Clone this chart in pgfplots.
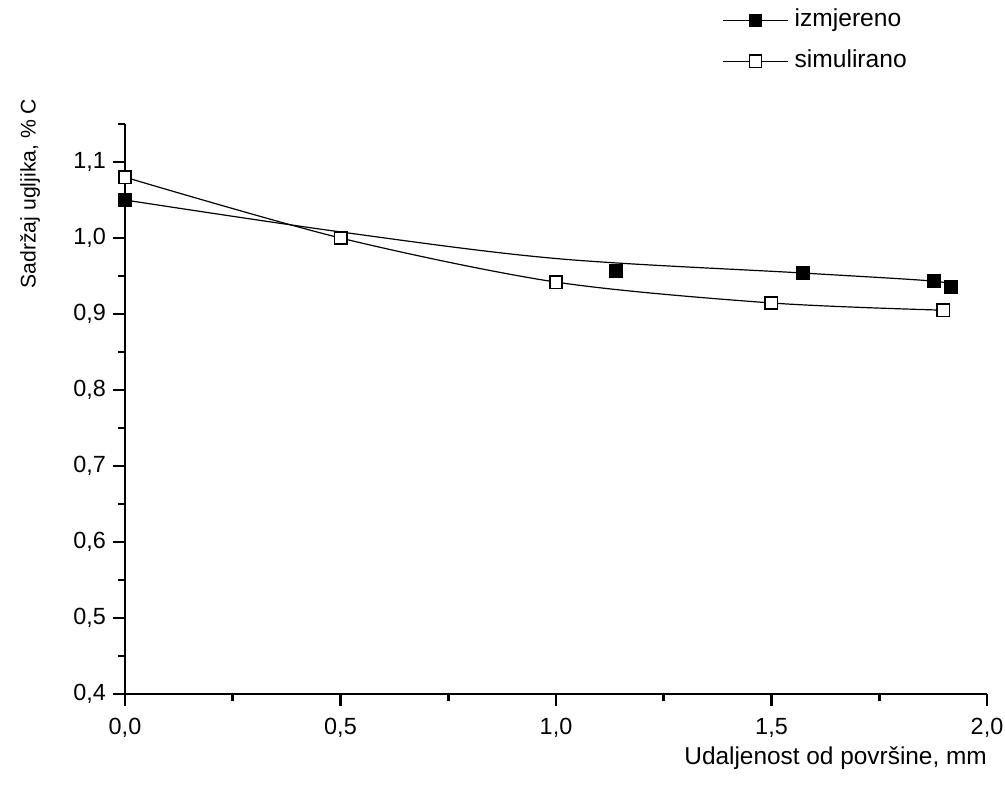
\documentclass[border=0pt]{standalone}
\usepackage{fontspec}
\setmainfont{Liberation Sans}
\usepackage{pgfplots}
\pgfplotsset{compat=1.18}
\begin{document}
\begin{tikzpicture}[x=1pt,y=1pt]
\useasboundingbox (-62.5,-51) rectangle (440,347);
\begin{axis}[
  at={(0,0)}, anchor=south west,
  scale only axis, width=431pt, height=285pt,
  xmin=0, xmax=2, ymin=0.4, ymax=1.15,
  axis x line*=bottom, axis y line*=left,
  axis line style={-, line width=1.4pt},
  xtick={0,0.5,1,1.5,2},
  minor xtick={0.25,0.75,1.25,1.75},
  ytick={0.4,0.5,0.6,0.7,0.8,0.9,1.0,1.1},
  minor ytick={0.45,0.55,0.65,0.75,0.85,0.95,1.05,1.15},
  tick align=outside,
  major tick length=6pt, minor tick length=3.5pt,
  every tick/.style={black, line width=1.4pt},
  /pgf/number format/assume math mode=true,
  /pgf/number format/use comma,
  /pgf/number format/fixed,
  /pgf/number format/fixed zerofill,
  /pgf/number format/precision=1,
  ticklabel style={font=\fontsize{11.7pt}{14pt}\selectfont},
  xticklabel style={yshift=-2.5pt},
  ylabel={Sadržaj ugljika, \% C},
  xlabel={Udaljenost od površine, mm},
  every axis y label/.style={at={(rel axis cs:-0.1102,0.878)}, rotate=90, anchor=center, font=\fontsize{10.6pt}{13pt}\selectfont},
  every axis x label/.style={at={(rel axis cs:1.008,-0.112)}, anchor=east, font=\fontsize{12.2pt}{14pt}\selectfont},
  clip=false,
  legend style={draw=none, fill=none, inner sep=0pt, at={(rel axis cs:0.6926,1.2035)}, anchor=north west,
    font=\fontsize{12.3pt}{14pt}\selectfont, row sep=8.5pt,
    nodes={inner sep=0pt, text height=9pt, text depth=3pt},
    /tikz/every odd column/.append style={column sep=3pt}},
  legend cell align=left,
  legend image code/.code={\draw[black, line width=0.6pt] (0pt,0pt) -- (32.5pt,0pt);
     \draw[#1] plot coordinates {(16.25pt,0pt)};},
]
% fitted curves
\addplot[black, line width=0.6pt, smooth, tension=0.55, forget plot] coordinates {
 (0,1.05) (0.5,1.008) (1.0,0.973) (1.57,0.954) (1.88,0.943) (1.916,0.9355)};
\addplot[black, line width=0.6pt, smooth, tension=0.5, forget plot] coordinates {
 (0,1.08) (0.5,1.0) (1.0,0.942) (1.5,0.9145) (1.9,0.905)};
% measured
\addplot[black, line width=0.6pt, mark=square*, mark size=3.1pt, mark options={fill=black, line width=0.6pt}, only marks] coordinates {
 (0,1.05) (1.139,0.9566) (1.573,0.954) (1.877,0.9434) (1.916,0.9355)};
\addlegendentry{izmjereno}
% simulated
\addplot[black, line width=0.6pt, mark=square*, mark size=3.1pt, mark options={fill=white, line width=0.75pt}, only marks] coordinates {
 (0,1.08) (0.501,1.0) (1.0,0.942) (1.499,0.9145) (1.898,0.905)};
\addlegendentry{simulirano}
\end{axis}
\end{tikzpicture}
\end{document}
